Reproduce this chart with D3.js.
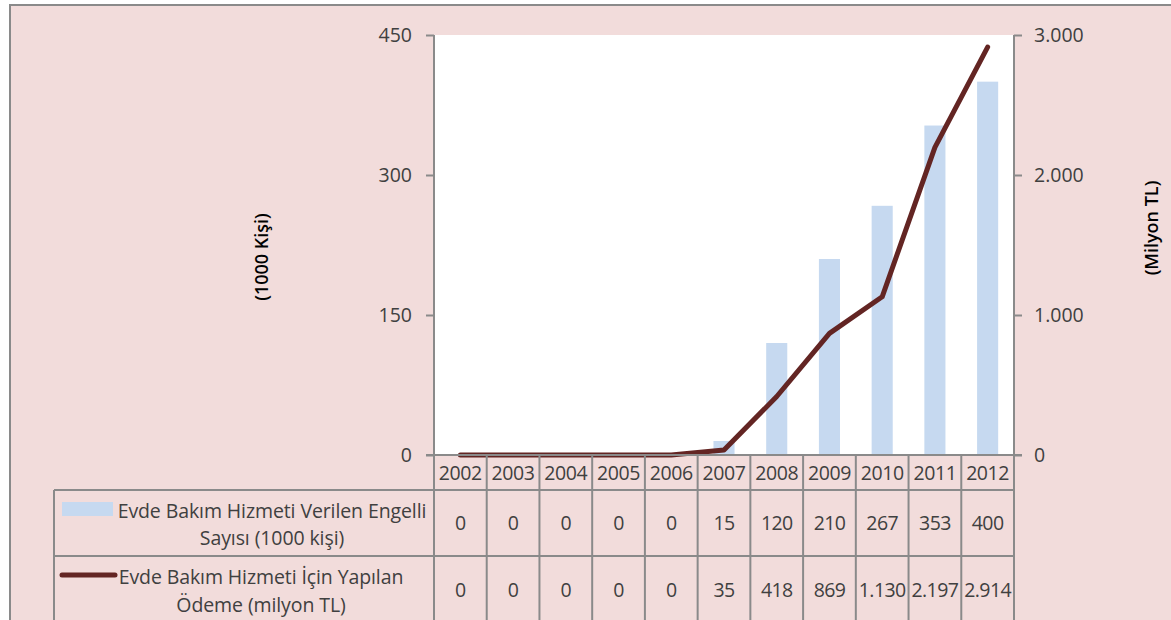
<!DOCTYPE html>
<html><head><meta charset="utf-8">
<script src="https://cdn.jsdelivr.net/npm/d3@7"></script>
<style>
html,body{margin:0;padding:0;background:#fff;}
svg{display:block;}
text{font-family:"Open Sans","Noto Sans",sans-serif;}
</style></head>
<body>
<svg id="chart" width="1171" height="620"></svg>
<script>
const years = ["2002","2003","2004","2005","2006","2007","2008","2009","2010","2011","2012"];
const persons = [0,0,0,0,0,15,120,210,267,353,400];
const payments = [0,0,0,0,0,35,418,869,1130,2197,2914];
const leftTicks = [0,150,300,450];
const rightTicks = [0,1000,2000,3000];
const seriesNames = [
  ["Evde Bakım Hizmeti Verilen Engelli","Sayısı (1000 kişi)"],
  ["Evde Bakım Hizmeti İçin Yapılan","Ödeme (milyon TL)"]
];
const leftTitle = "(1000 Kişi)";
const rightTitle = "(Milyon TL)";

const tr = d3.formatLocale({decimal:",",thousands:".",grouping:[3],currency:["","TL"]});
const fmt = tr.format(",d");

const svg = d3.select("#chart");
const W = 1171, H = 620;
const bg = "#F2DCDB", gridC = "#8a8a8a", txtC = "#404040";
const barC = "#C6D9F0", lineC = "#632523";
const FS = "19.5px";

svg.append("rect").attr("x",10).attr("y",5).attr("width",W-10).attr("height",H-5).attr("fill",bg);
svg.append("path").attr("d",`M10,${H}V5H${W}`).attr("fill","none").attr("stroke",gridC).attr("stroke-width",2);

const L = 434, R = 1014, T = 35, B = 455;
const rowY = [455,490,556,620];

svg.append("rect").attr("x",L).attr("y",T).attr("width",R-L).attr("height",B-T).attr("fill","#fff");

const xCol = d3.scaleBand().domain(years).range([L,R]);
const xBar = d3.scaleBand().domain(years).range([L,R]).paddingInner(0.6).paddingOuter(0.3);
const yL = d3.scaleLinear().domain([0,450]).range([B,T]);
const yR = d3.scaleLinear().domain([0,3000]).range([B,T]);

svg.append("g").selectAll("rect").data(persons).join("rect")
  .attr("x",(d,i)=>xBar(years[i])).attr("width",xBar.bandwidth())
  .attr("y",d=>yL(d)).attr("height",d=>B-yL(d)).attr("fill",barC);

const line = d3.line().x((d,i)=>xCol(years[i])+xCol.bandwidth()/2).y(d=>yR(d));
svg.append("path").datum(payments).attr("d",line).attr("fill","none")
  .attr("stroke",lineC).attr("stroke-width",5).attr("stroke-linejoin","round").attr("stroke-linecap","round");

const axL = svg.append("g").attr("transform",`translate(${L},0)`)
  .call(d3.axisLeft(yL).tickValues(leftTicks).tickSize(8).tickPadding(14).tickFormat(fmt));
const axR = svg.append("g").attr("transform",`translate(${R},0)`)
  .call(d3.axisRight(yR).tickValues(rightTicks).tickSize(8).tickPadding(12).tickFormat(fmt));
[axL,axR].forEach(a=>{
  a.select(".domain").remove();
  a.selectAll(".tick line").attr("stroke",gridC).attr("stroke-width",2);
  a.selectAll(".tick text").attr("fill",txtC).style("font-size",FS).style("font-family","'Open Sans',sans-serif");
});
svg.append("line").attr("x1",L).attr("x2",L).attr("y1",T).attr("y2",H).attr("stroke",gridC).attr("stroke-width",2);
svg.append("line").attr("x1",R).attr("x2",R).attr("y1",T).attr("y2",H).attr("stroke",gridC).attr("stroke-width",2);

svg.append("text").attr("transform",`translate(268,257) rotate(-90)`).attr("text-anchor","middle")
  .style("font-size","18px").style("font-weight","600").attr("fill","#000").text(leftTitle);
svg.append("text").attr("transform",`translate(1158,228) rotate(-90)`).attr("text-anchor","middle")
  .style("font-size","18px").style("font-weight","600").attr("fill","#000").text(rightTitle);

const g = svg.append("g");
g.append("line").attr("x1",L-8).attr("x2",R+8).attr("y1",B).attr("y2",B).attr("stroke",gridC).attr("stroke-width",2);
[rowY[1],rowY[2]].forEach(y=>g.append("line").attr("x1",54).attr("x2",R).attr("y1",y).attr("y2",y).attr("stroke",gridC).attr("stroke-width",2));
years.slice(1).forEach(yr=>g.append("line").attr("x1",xCol(yr)).attr("x2",xCol(yr)).attr("y1",B).attr("y2",H).attr("stroke",gridC).attr("stroke-width",2));
g.append("line").attr("x1",54).attr("x2",54).attr("y1",rowY[1]).attr("y2",H).attr("stroke",gridC).attr("stroke-width",2);

g.selectAll("text.yr").data(years).join("text").attr("class","yr")
  .attr("x",d=>xCol(d)+xCol.bandwidth()/2).attr("y",(rowY[0]+rowY[1])/2).attr("dy","0.36em")
  .attr("text-anchor","middle").attr("fill",txtC).style("font-size",FS).style("letter-spacing","-0.4px").text(d=>d);

[persons,payments].forEach((arr,r)=>{
  g.selectAll("text.v"+r).data(arr).join("text").attr("class","v"+r)
    .attr("x",(d,i)=>xCol(years[i])+xCol.bandwidth()/2).attr("y",(rowY[r+1]+rowY[r+2])/2 + (r===1?2:0)).attr("dy","0.36em")
    .attr("text-anchor","middle").attr("fill",txtC).style("font-size",FS).style("letter-spacing","-0.6px").text(d=>fmt(d));
});

g.append("rect").attr("x",62).attr("y",502).attr("width",51).attr("height",14).attr("fill",barC);
g.append("line").attr("x1",62).attr("x2",115).attr("y1",575).attr("y2",575).attr("stroke",lineC).attr("stroke-width",5).attr("stroke-linecap","round");
const legCX = [272,261];
const legY = [[511,538],[577,605]];
seriesNames.forEach((lines,r)=>{
  lines.forEach((s,k)=>{
    g.append("text").attr("x",legCX[r]).attr("y",legY[r][k]).attr("dy","0.36em").attr("text-anchor","middle")
      .attr("fill",txtC).style("font-size",FS).style("letter-spacing","-0.1px").text(s);
  });
});
</script>
</body></html>
